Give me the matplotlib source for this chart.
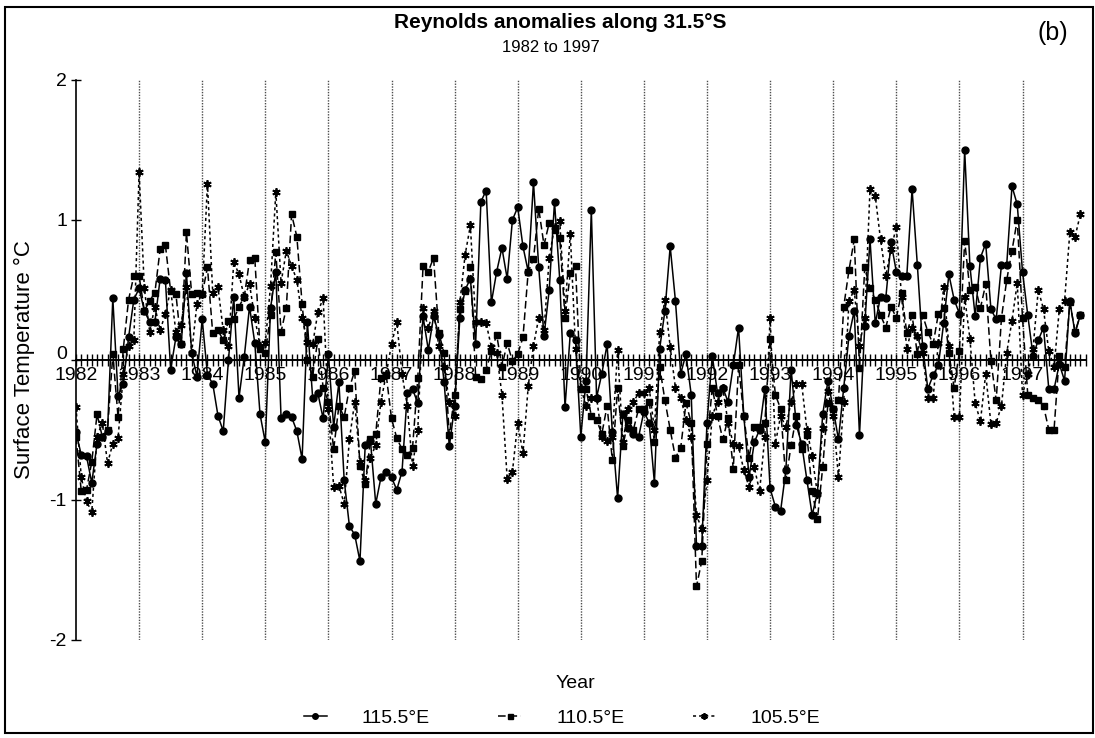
# ==============================================================================
# Reynolds SST anomalies along 31.5S, 1982 to 1997, panel (b)

import matplotlib
matplotlib.use('Agg')
import matplotlib.pyplot as plt
import matplotlib.transforms as mtransforms
from matplotlib.patches import Rectangle
import numpy as np

plt.rcParams['font.family'] = ['Liberation Sans', 'DejaVu Sans']

# ==============================================================================
# Data: monthly anomalies (deg C), Jan 1982 .. Dec 1997
years = list(range(1982, 1998))
labels = ['115.5°E', '110.5°E', '105.5°E']

sst_1155 = [
    -0.52, -0.68, -0.69, -0.88, -0.60, -0.55, -0.51, 0.44, -0.26, -0.17, 0.16, 0.43,   # 1982
    0.51, 0.35, 0.27, 0.27, 0.58, 0.57, -0.07, 0.16, 0.11, 0.62, 0.05, -0.12,          # 1983
    0.29, -0.11, -0.17, -0.40, -0.51, 0.00, 0.45, -0.27, 0.02, 0.38, 0.12, -0.39,      # 1984
    -0.59, 0.37, 0.63, -0.42, -0.39, -0.41, -0.51, -0.71, 0.27, -0.27, -0.24, -0.42,   # 1985
    0.04, -0.48, -0.16, -0.86, -1.19, -1.25, -1.44, -0.61, -0.58, -1.03, -0.84, -0.80, # 1986
    -0.84, -0.93, -0.80, -0.24, -0.21, -0.31, 0.31, 0.07, 0.31, 0.18, -0.16, -0.62,    # 1987
    -0.33, 0.30, 0.50, 0.58, 0.11, 1.13, 1.21, 0.41, 0.63, 0.80, 0.58, 1.00,           # 1988
    1.09, 0.81, 0.63, 1.27, 0.66, 0.17, 0.50, 1.13, 0.57, -0.34, 0.19, 0.14,           # 1989
    -0.55, -0.15, 1.07, -0.27, -0.10, 0.11, -0.52, -0.99, -0.39, -0.49, -0.53, -0.55,  # 1990
    -0.37, -0.45, -0.88, 0.08, 0.35, 0.81, 0.42, -0.10, 0.04, -0.25, -1.33, -1.33,     # 1991
    -0.45, 0.03, -0.24, -0.20, -0.30, -0.04, 0.23, -0.40, -0.84, -0.59, -0.50, -0.21,  # 1992
    -0.92, -1.05, -1.08, -0.79, -0.07, -0.47, -0.60, -0.86, -1.11, -0.95, -0.39, -0.15, # 1993
    -0.35, -0.57, -0.20, 0.17, 0.35, -0.54, 0.24, 0.86, 0.26, 0.45, 0.44, 0.84,       # 1994
    0.63, 0.60, 0.60, 1.22, 0.68, 0.10, -0.21, -0.11, -0.04, 0.26, 0.61, 0.43,         # 1995
    0.33, 1.50, 0.67, 0.31, 0.73, 0.83, 0.36, 0.29, 0.68, 0.68, 1.24, 1.11,            # 1996
    0.63, 0.32, 0.03, 0.14, 0.23, -0.21, -0.21, -0.03, -0.15, 0.42, 0.19, 0.32,        # 1997
]

sst_1105 = [
    -0.55, -0.94, -0.93, -0.73, -0.39, -0.55, -0.50, 0.04, -0.41, 0.08, 0.43, 0.60,    # 1982
    0.60, 0.35, 0.42, 0.48, 0.79, 0.82, 0.49, 0.47, 0.11, 0.91, 0.47, 0.48,            # 1983
    0.47, 0.66, 0.19, 0.21, 0.14, 0.28, 0.29, 0.38, 0.45, 0.71, 0.73, 0.08,            # 1984
    0.05, 0.32, 0.77, 0.20, 0.37, 1.04, 0.88, 0.40, 0.00, -0.12, 0.15, -0.20,          # 1985
    -0.30, -0.64, -0.33, -0.41, -0.20, -0.08, -0.76, -0.89, -0.57, -0.53, -0.13, -0.11, # 1986
    -0.42, -0.56, -0.64, -0.68, -0.63, -0.13, 0.67, 0.63, 0.73, 0.19, 0.05, -0.54,     # 1987
    -0.25, 0.36, 0.49, 0.66, -0.12, -0.14, -0.07, 0.06, 0.18, -0.05, 0.12, -0.01,      # 1988
    0.04, 0.16, 0.63, 0.72, 1.08, 0.82, 0.98, 0.93, 0.87, 0.30, 0.62, 0.67,            # 1989
    -0.21, -0.21, -0.40, -0.43, -0.53, -0.33, -0.72, -0.20, -0.62, -0.43, -0.50, -0.35, # 1990
    -0.35, -0.30, -0.59, -0.05, -0.29, -0.50, -0.70, -0.63, -0.31, -0.45, -1.62, -1.44, # 1991
    -0.60, -0.20, -0.40, -0.57, -0.42, -0.78, -0.04, -0.40, -0.70, -0.48, -0.48, -0.45, # 1992
    0.15, -0.25, -0.35, -0.86, -0.61, -0.40, -0.64, -0.54, -0.94, -1.14, -0.77, -0.31,  # 1993
    -0.35, -0.29, 0.38, 0.64, 0.86, -0.06, 0.66, 0.51, 0.43, 0.32, 0.23, 0.38,         # 1994
    0.30, 0.48, 0.19, 0.32, 0.04, 0.32, 0.20, 0.11, 0.33, 0.37, 0.05, -0.20,           # 1995
    0.06, 0.85, 0.50, 0.52, 0.37, 0.54, -0.01, -0.29, 0.30, 0.57, 0.78, 1.00,          # 1996
    0.30, -0.25, -0.27, -0.29, -0.33, -0.50, -0.50, 0.03, -0.05, 0.41, 0.20, 0.32,     # 1997
]

sst_1055 = [
    -0.34, -0.84, -1.01, -1.09, -0.55, -0.45, -0.74, -0.60, -0.56, -0.10, 0.10, 0.14,  # 1982
    1.34, 0.51, 0.20, 0.38, 0.21, 0.33, 0.50, 0.20, 0.25, 0.52, 0.05, 0.40,            # 1983
    0.47, 1.26, 0.48, 0.52, 0.21, 0.10, 0.70, 0.61, 0.45, 0.54, 0.30, 0.10,            # 1984
    0.12, 0.53, 1.20, 0.55, 0.78, 0.67, 0.57, 0.30, 0.13, 0.11, 0.34, 0.44,            # 1985
    -0.35, -0.91, -0.90, -1.03, -0.57, -0.30, -0.73, -0.86, -0.70, -0.61, -0.30, -0.10, # 1986
    0.11, 0.27, -0.10, -0.33, -0.76, -0.50, 0.37, 0.23, 0.35, 0.10, -0.05, -0.30,      # 1987
    -0.40, 0.41, 0.75, 0.96, 0.27, 0.27, 0.26, 0.09, 0.05, -0.25, -0.85, -0.80,        # 1988
    -0.45, -0.67, -0.19, 0.10, 0.30, 0.21, 0.73, 0.95, 0.99, 0.35, 0.90, 0.08,         # 1989
    -0.20, -0.33, -0.27, -0.27, -0.55, -0.58, -0.55, 0.07, -0.59, -0.35, -0.30, -0.24, # 1990
    -0.24, -0.20, -0.50, 0.20, 0.43, 0.09, -0.20, -0.27, -0.43, -0.55, -1.11, -1.21,   # 1991
    -0.86, -0.40, -0.30, -0.20, -0.45, -0.60, -0.62, -0.79, -0.91, -0.77, -0.94, -0.55, # 1992
    0.30, -0.60, -0.40, -0.48, -0.30, -0.17, -0.17, -0.50, -0.69, -0.96, -0.49, -0.22,  # 1993
    -0.40, -0.84, -0.30, 0.42, 0.50, 0.10, 0.30, 1.22, 1.17, 0.86, 0.60, 0.79,        # 1994
    0.95, 0.45, 0.08, 0.23, 0.17, 0.05, -0.27, -0.27, 0.12, 0.52, 0.10, -0.41,         # 1995
    -0.41, 0.45, 0.15, -0.31, -0.44, -0.10, -0.46, -0.45, -0.33, 0.05, 0.28, 0.55,     # 1996
    -0.25, -0.10, 0.08, 0.50, 0.36, 0.06, -0.05, 0.36, 0.42, 0.91, 0.88, 1.04,         # 1997
]


# ==============================================================================
def main():

    W, H = 1095., 738.
    time = years[0] + np.arange(len(sst_1155)) / 12.
    month_ticks = years[0] + np.arange(len(years) * 12 + 1) / 12.

    fig = plt.figure(figsize=(W / 100, H / 100), dpi=100)
    ax = fig.add_axes([76 / W, 98.5 / H, 1009.6 / W, 559.5 / H])

    # year separators
    ax.vlines(years[1:], -2, 2, colors='0.3', linestyles=(0, (1, 1)),
              lw=1, zorder=1)

    # series
    l1, = ax.plot(time, sst_1155, color='k', ls='-', lw=1.1, marker='o',
                  ms=5, zorder=4)
    l2, = ax.plot(time, sst_1105, color='k', ls=(0, (5, 2.5)), lw=1.1,
                  marker='s', ms=4.5, zorder=3)
    l3, = ax.plot(time, sst_1055, color='k', ls=(0, (2, 2)), lw=1.1,
                  marker=(6, 2, 0), ms=6, mew=1.3, zorder=2)

    # axes
    ax.set_xlim(years[0], years[-1] + 1)
    ax.set_ylim(-2, 2)
    ax.spines['top'].set_visible(False)
    ax.spines['right'].set_visible(False)
    ax.spines['bottom'].set_position(('data', 0))
    ax.spines['bottom'].set_linewidth(1.4)
    ax.spines['left'].set_linewidth(1.2)
    ax.set_xticks(years)
    ax.set_xticklabels([str(y) for y in years], fontsize=14)
    ax.set_xticks(month_ticks, minor=True)
    ax.tick_params(axis='x', which='both', direction='inout', length=8,
                   width=1, pad=1)
    ax.set_yticks([-2, -1, 0, 1, 2])
    ax.set_yticklabels(['-2', '-1', '0', '1', '2'], fontsize=14)
    ax.tick_params(axis='y', direction='inout', length=7, width=1, pad=3)
    for lab in ax.get_xticklabels():
        lab.set_zorder(5)
    # the "0" sits just above the zero line, clear of the 1982 label
    zero_lab = ax.get_yticklabels()[2]
    zero_lab.set_transform(zero_lab.get_transform() +
                           mtransforms.ScaledTranslation(0, 5 / 72.,
                                                         fig.dpi_scale_trans))

    ax.set_ylabel('Surface Temperature °C', fontsize=16)
    ax.yaxis.set_label_coords(-41 / 1009.6, 0.5)

    # texts
    fig.text(560 / W, 1 - 22 / H, 'Reynolds anomalies along 31.5°S',
             ha='center', va='center', fontsize=15, fontweight='bold')
    fig.text(551 / W, 1 - 47 / H, '1982 to 1997', ha='center', va='center',
             fontsize=12)
    fig.text(1053 / W, 1 - 33 / H, '(b)', ha='center', va='center',
             fontsize=18)
    fig.text(575 / W, 1 - 684 / H, 'Year', ha='center', va='center',
             fontsize=14)

    fig.legend([l1, l2, l3], labels, loc='center',
               bbox_to_anchor=(562 / W, 1 - 718 / H), ncol=3, frameon=False,
               fontsize=14, handlelength=1.2, handletextpad=1.8,
               columnspacing=3.5, markerscale=0.8)

    # frame around the whole figure
    fig.add_artist(Rectangle((5 / W, 5 / H), 1088 / W, 726 / H,
                             transform=fig.transFigure, fill=False,
                             lw=1.5, color='k'))

    fig.savefig('out.png', dpi=100)


# ==============================================================================
if __name__ == '__main__':
    main()
